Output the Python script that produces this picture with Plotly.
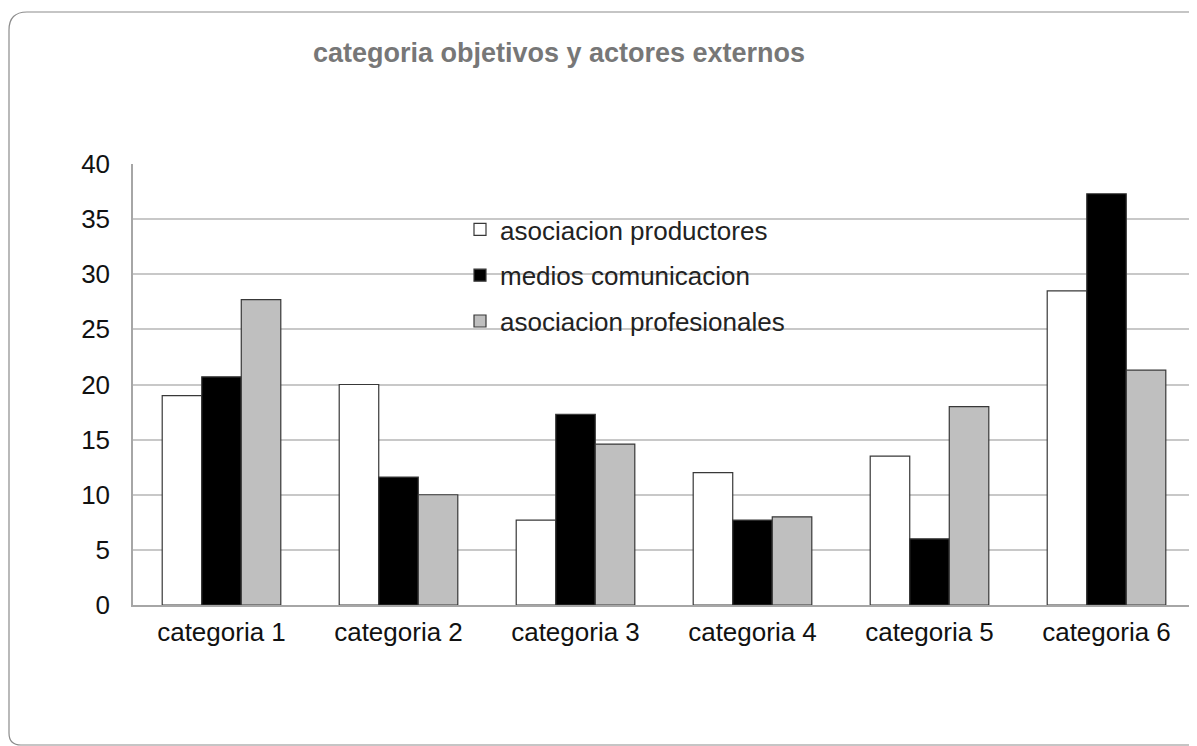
import plotly.graph_objects as go

categories = ['categoria 1', 'categoria 2', 'categoria 3', 'categoria 4', 'categoria 5', 'categoria 6']
productores = [19.0, 20.0, 7.7, 12.0, 13.5, 28.5]
medios = [20.7, 11.6, 17.3, 7.7, 6.0, 37.3]
profesionales = [27.7, 10.0, 14.6, 8.0, 18.0, 21.3]
y_ticks = [0, 5, 10, 15, 20, 25, 30, 35, 40]

# the page adds an 8px body margin, so positions are the reference ones minus 8
OFF = 8
W, H = 1197, 746
L, R, T, B = 133 - OFF, 1195 - OFF, 164 - OFF, 605 - OFF


def px(x):
    return (x - OFF - L) / (R - L)


def py(y):
    return (B - (y - OFF)) / (B - T)


fig = go.Figure()
series = [('asociacion productores', productores, '#ffffff'),
          ('medios comunicacion', medios, '#000000'),
          ('asociacion profesionales', profesionales, '#bfbfbf')]
for i, (name, vals, col) in enumerate(series):
    fig.add_trace(go.Bar(x=categories, y=vals, name=name, legendgroup=str(i),
                         marker=dict(color=col, line=dict(color='#383838', width=1.2))))

# rounded chart frame
frame = (f"M {px(1230)},{py(12)} L {px(27)},{py(12)} Q {px(9)},{py(12)} {px(9)},{py(30)} "
         f"L {px(9)},{py(733)} Q {px(9)},{py(745)} {px(21)},{py(745)} L {px(1230)},{py(745)}")
fig.add_shape(type='path', path=frame, xref='paper', yref='paper',
              line=dict(color='#8c8c8c', width=1.2), layer='below')

fig.update_layout(
    width=W, height=H,
    margin=dict(l=L, r=W - R, t=T, b=H - B),
    paper_bgcolor='white', plot_bgcolor='white',
    font=dict(family='Liberation Sans, Arial, sans-serif', size=26, color='#000000'),
    title=dict(text='<b>categoria objetivos y actores externos</b>',
               xref='paper', x=px(559), xanchor='center', y=1 - (53 - OFF) / H, yanchor='middle',
               font=dict(size=27, color='#777777')),
    barmode='group', bargap=0.33, bargroupgap=0,
    showlegend=True,
    legend=dict(x=px(460), y=py(206), xanchor='left', yanchor='top',
                bgcolor='rgba(0,0,0,0)', traceorder='grouped', tracegroupgap=9,
                font=dict(size=26, color='#222222')),
)
fig.update_xaxes(showline=True, linecolor='#a6a6a6', linewidth=1.5, ticks='',
                 tickfont=dict(size=26, color='#111111'), ticklabelstandoff=3)
fig.update_yaxes(range=[0, 40], tickvals=y_ticks, showgrid=True, gridcolor='#c8c8c8',
                 gridwidth=1.5, showline=True, linecolor='#a6a6a6', linewidth=1.5,
                 zeroline=False, ticks='', ticklabelstandoff=16,
                 tickfont=dict(size=26, color='#111111'))

fig.write_html('out.html')
